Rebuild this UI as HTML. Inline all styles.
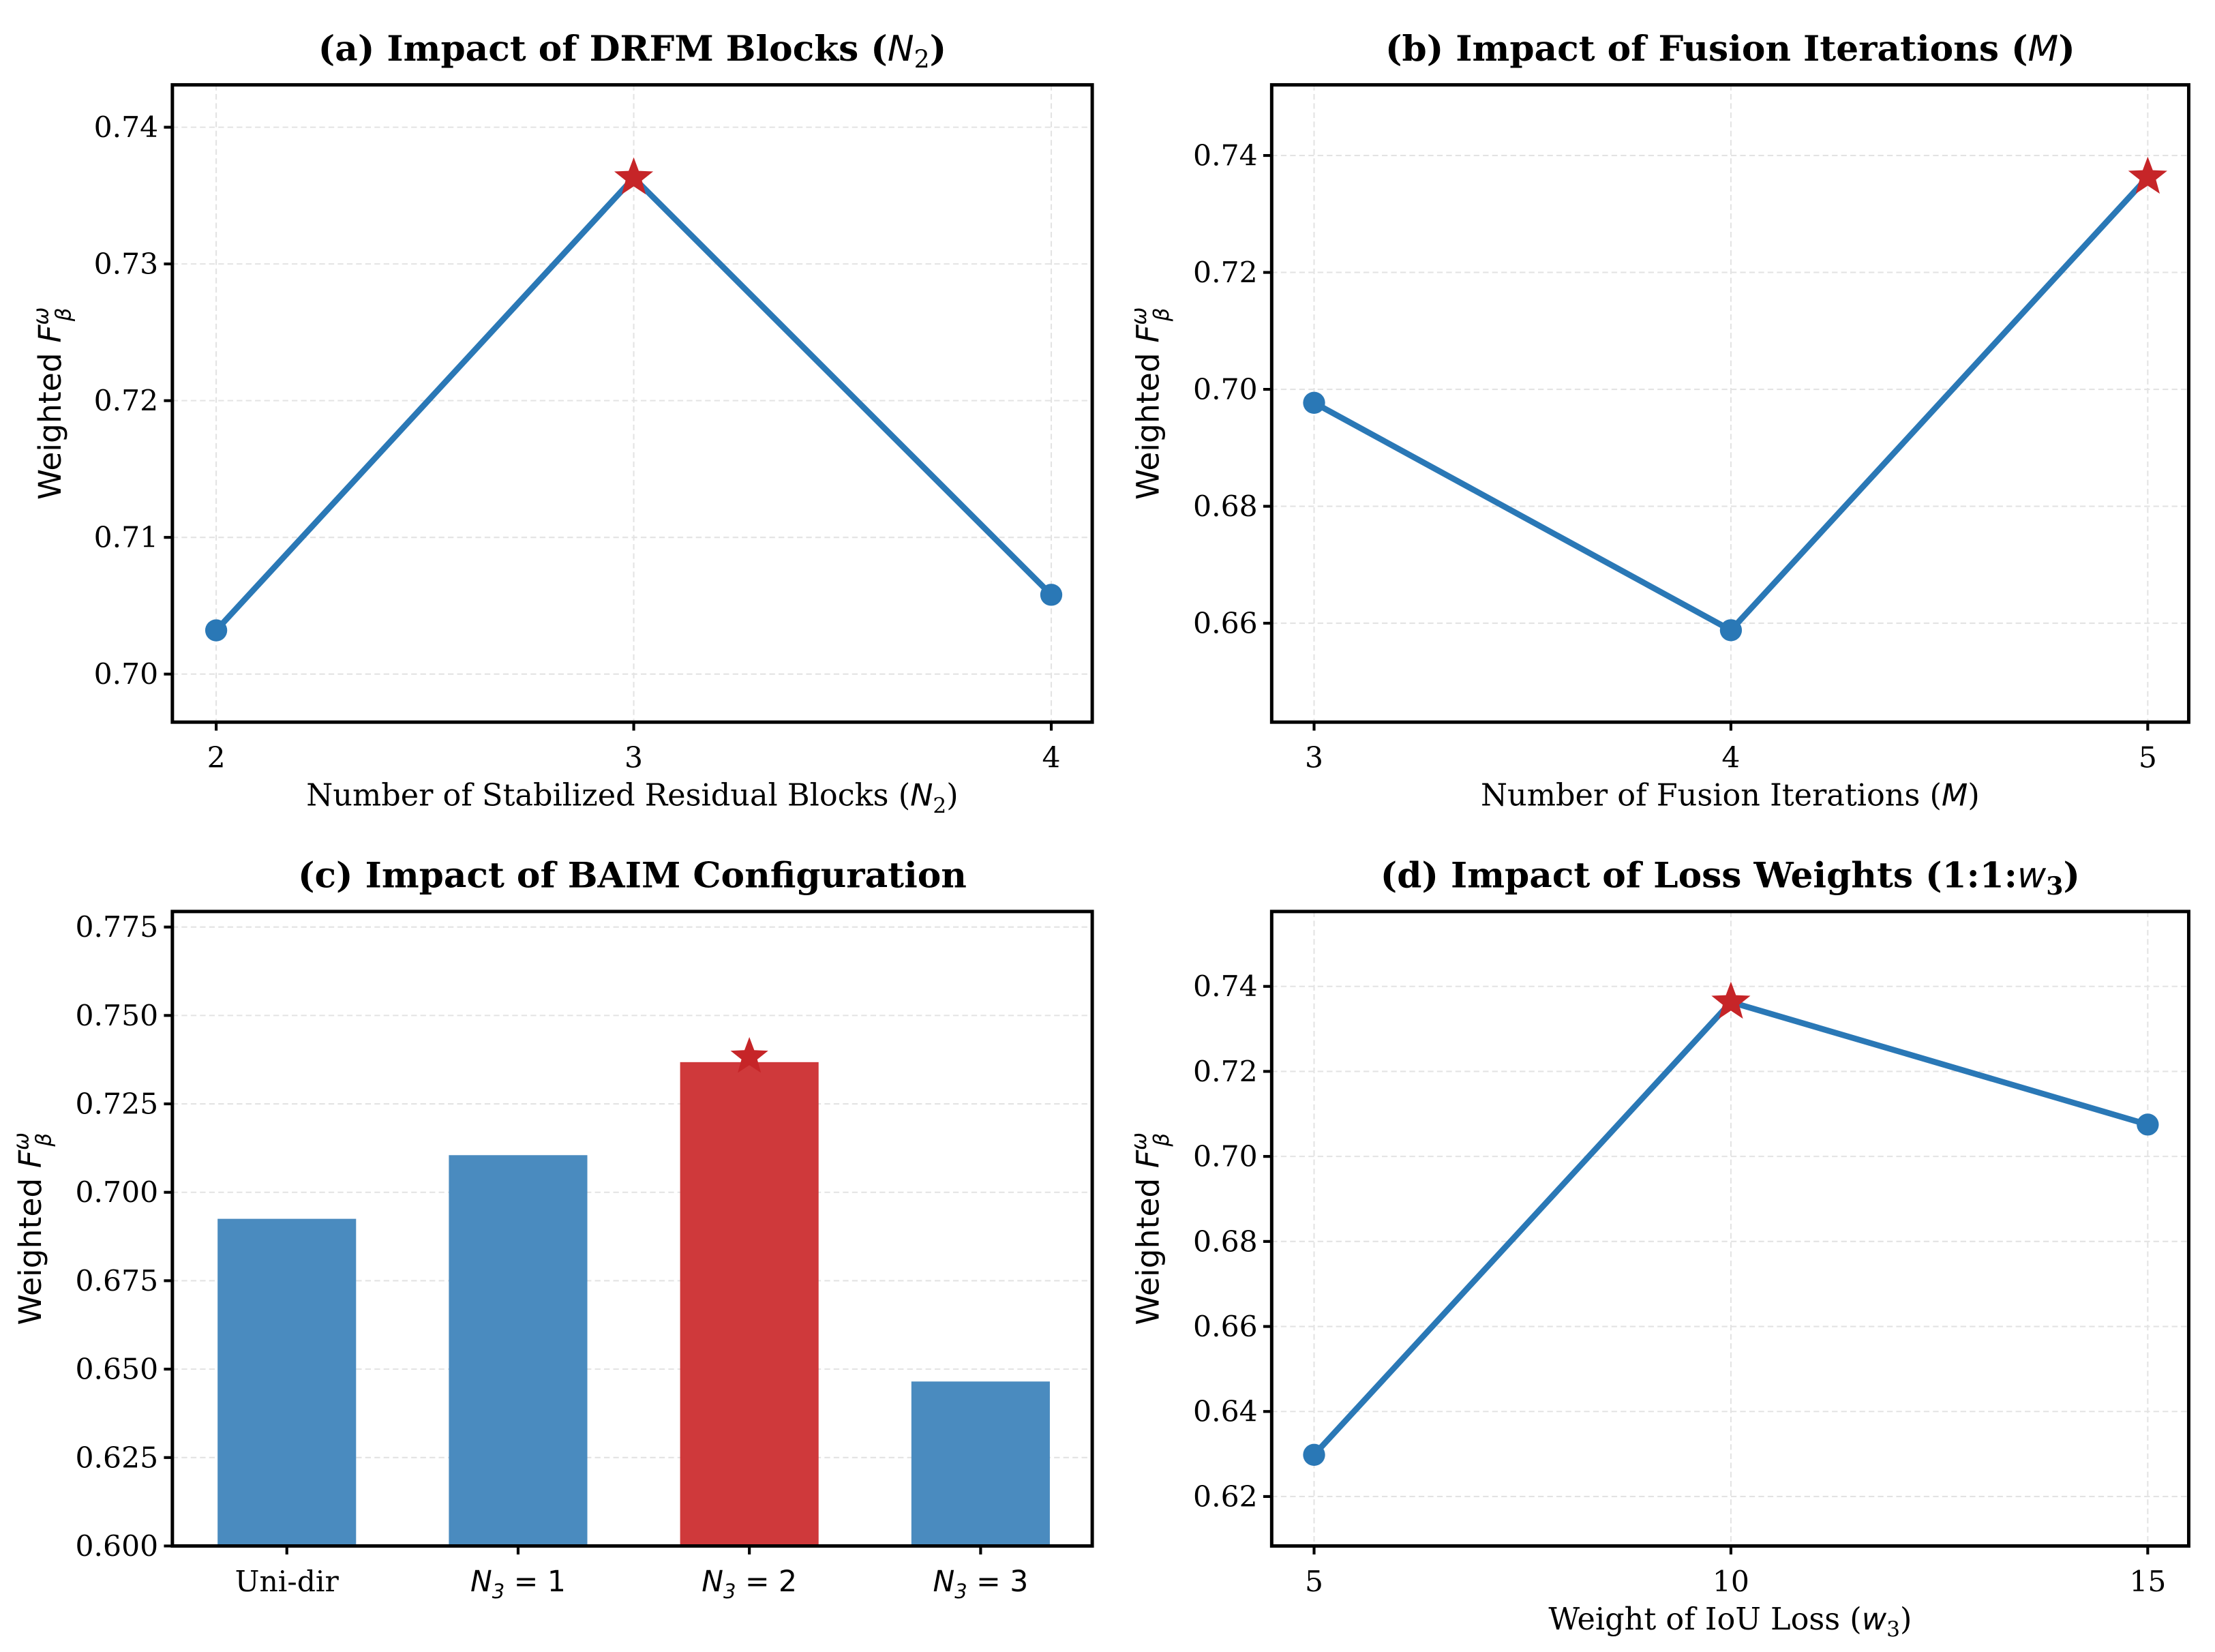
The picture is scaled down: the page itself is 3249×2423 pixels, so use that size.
<!DOCTYPE html>
<html><head><meta charset="utf-8"><style>
html,body{margin:0;padding:0;background:#fff}
svg{display:block}
text{font-family:"DejaVu Serif","Liberation Serif",serif;fill:#000}
.m{font-family:"DejaVu Sans","Liberation Sans",sans-serif;font-style:italic}
</style></head><body>
<svg id="fig" width="3249" height="2423" viewBox="0 0 1567.6 1169" xmlns="http://www.w3.org/2000/svg"></svg>
<script>
// Panel a data
const aCats=[2,3,4];
const aVals=[0.7032,0.7363,0.7058];
const aTicks=[0.70,0.71,0.72,0.73,0.74];
// Panel b data
const bCats=[3,4,5];
const bVals=[0.6977,0.6588,0.7363];
const bTicks=[0.66,0.68,0.70,0.72,0.74];
// Panel c data
const cCats=["Uni-dir","N3=1","N3=2","N3=3"];
const cVals=[0.6925,0.7105,0.7368,0.6465];
const cTicks=[0.600,0.625,0.650,0.675,0.700,0.725,0.750,0.775];
// Panel d data
const dCats=[5,10,15];
const dVals=[0.6298,0.7363,0.7075];
const dTicks=[0.62,0.64,0.66,0.68,0.70,0.72,0.74];

const NS="http://www.w3.org/2000/svg";
const svg=document.getElementById('fig');
function mk(tag,attrs,parent,txt){const e=document.createElementNS(NS,tag);for(const k in attrs)e.setAttribute(k,attrs[k]);if(txt!==undefined)e.textContent=txt;(parent||svg).appendChild(e);return e;}
function star(cx,cy,R){const r=R*0.42;let p=[];for(let i=0;i<10;i++){const a=-Math.PI/2+i*Math.PI/5;const rr=i%2?r:R;p.push((cx+rr*Math.cos(a)).toFixed(2)+","+(cy+rr*Math.sin(a)).toFixed(2));}return p.join(" ");}

function panel(o){
  const g=mk('g',{});
  
  
  const {L,R,T,B}=o;
  const ys=v=>o.y0p+(v-o.y0)*(o.y1p-o.y0p)/(o.y1-o.y0);
  const xs=i=>o.xp[0]+i*(o.xp[1]-o.xp[0])/(o.n-1);
  o.ticks.forEach(t=>{const y=ys(t);
    const gl=mk('line',{x1:L,x2:R,y1:y,y2:y,stroke:'#e3e3e3','stroke-width':1,'stroke-dasharray':'4,2.5'},g);
    
  });
  if(!o.bar){for(let i=0;i<o.n;i++){const x=xs(i);
    const gl=mk('line',{x1:x,x2:x,y1:T,y2:B,stroke:'#e3e3e3','stroke-width':1,'stroke-dasharray':'4,2.5'},g);
    }}
  if(o.bar){
    o.vals.forEach((v,i)=>{const x=xs(i),w=o.bw;const hl=i===o.best;
      const r=mk('rect',{x:x-w/2,y:ys(v),width:w,height:B-ys(v),fill:hl?'#cf393b':'#4a8bbf'},g);
      
    });
    const bi=o.best;const s=mk('polygon',{points:star(xs(bi),ys(o.vals[bi]+0.0015),14),fill:'#c62528'},g);
    
  } else {
    const pts=o.vals.map((v,i)=>xs(i)+","+ys(v)).join(" ");
    const pl=mk('polyline',{points:pts,fill:'none',stroke:'#2a78b6','stroke-width':4.2,'stroke-linejoin':'round'},g);
    
    let bi=0;o.vals.forEach((v,i)=>{if(v>o.vals[bi])bi=i;});
    o.vals.forEach((v,i)=>{
      if(i===bi){const s=mk('polygon',{points:star(xs(i),ys(v),14.5),fill:'#c62528'},g);
        }
      else{const c=mk('circle',{cx:xs(i),cy:ys(v),r:7.8,fill:'#2a78b6'},g);
        }
    });
  }
  const fr=mk('rect',{x:L,y:T,width:R-L,height:B-T,fill:'none',stroke:'#000','stroke-width':2.4},g);
  
  o.ticks.forEach(t=>{const y=ys(t);
    mk('line',{x1:L-6,x2:L,y1:y,y2:y,stroke:'#000','stroke-width':2},g);
    const tx=mk('text',{x:L-10,y:y+7,'text-anchor':'end','font-size':20.5},g,t.toFixed(o.dec));
    
  });
  for(let i=0;i<o.n;i++){const x=xs(i);
    mk('line',{x1:x,x2:x,y1:B,y2:B+6,stroke:'#000','stroke-width':2},g);
    let tx;
    if(o.bar && i>0){tx=mk('text',{x:x,y:B+32,'text-anchor':'middle','font-size':20.5},g);
      mk('tspan',{class:'m'},tx,'N');mk('tspan',{class:'m','font-size':14,dy:5,'font-style':'normal'},tx,'3');
      mk('tspan',{dy:-5,'font-family':'DejaVu Sans'},tx,' = '+(i));
    } else {tx=mk('text',{x:x,y:B+32,'text-anchor':'middle','font-size':20.5},g,String(o.cats[i]));}
    
  }
  const ti=mk('text',{x:(L+R)/2,y:T-17,'text-anchor':'middle','font-size':25,'font-weight':'bold'},g);
  
  o.title(ti);
  if(o.xlab){const xl=mk('text',{x:(L+R)/2,y:B+59,'text-anchor':'middle','font-size':21.5},g);
    o.xlab(xl);}
  const yl=mk('text',{transform:`translate(${o.ylx},${(T+B)/2}) rotate(-90)`,'text-anchor':'middle','font-size':22},g);
  
  mk('tspan',{'font-family':'DejaVu Sans'},yl,'Weighted ');mk('tspan',{class:'m'},yl,'F');
  mk('tspan',{class:'m','font-size':15,dy:-9},yl,'ω');mk('tspan',{class:'m','font-size':15,dy:16,dx:-10},yl,'β');
}
function sub(el,a,b,c){el.appendChild(document.createTextNode(a));mk('tspan',{class:'m','font-weight':'normal'},el,b);mk('tspan',{'font-size':'70%',dy:5,'font-weight':'normal'},el,c);mk('tspan',{dy:-5},el,')');}

panel({name:'panel-a',L:122,R:773,T:60,B:511,y0:0.70,y1:0.74,y0p:477,y1p:90,ticks:aTicks,dec:2,n:3,xp:[153,744],vals:aVals,cats:aCats,ylx:43,
  title:t=>sub(t,'(a) Impact of DRFM Blocks (','N','2'),
  xlab:t=>sub(t,'Number of Stabilized Residual Blocks (','N','2')});
panel({name:'panel-b',L:900,R:1549,T:60,B:511,y0:0.66,y1:0.74,y0p:441,y1p:110,ticks:bTicks,dec:2,n:3,xp:[930,1520],vals:bVals,cats:bCats,ylx:820,
  title:t=>{t.appendChild(document.createTextNode('(b) Impact of Fusion Iterations ('));mk('tspan',{class:'m','font-weight':'normal'},t,'M');t.appendChild(document.createTextNode(')'));},
  xlab:t=>{t.appendChild(document.createTextNode('Number of Fusion Iterations ('));mk('tspan',{class:'m'},t,'M');t.appendChild(document.createTextNode(')'));}});
panel({name:'panel-c',bar:true,best:2,bw:98,L:122,R:773,T:645,B:1094,y0:0.600,y1:0.775,y0p:1094,y1p:656,ticks:cTicks,dec:3,n:4,xp:[203,694],vals:cVals,cats:cCats,ylx:29,
  title:t=>t.appendChild(document.createTextNode('(c) Impact of BAIM Configuration'))});
panel({name:'panel-d',L:900,R:1549,T:645,B:1094,y0:0.62,y1:0.74,y0p:1059,y1p:698,ticks:dTicks,dec:2,n:3,xp:[930,1520],vals:dVals,cats:dCats,ylx:820,
  title:t=>{t.appendChild(document.createTextNode('(d) Impact of Loss Weights (1:1:'));mk('tspan',{class:'m','font-weight':'normal'},t,'w');mk('tspan',{'font-size':'70%',dy:5},t,'3');mk('tspan',{dy:-5},t,')');},
  xlab:t=>sub(t,'Weight of IoU Loss (','w','3')});
</script>
</body></html>
